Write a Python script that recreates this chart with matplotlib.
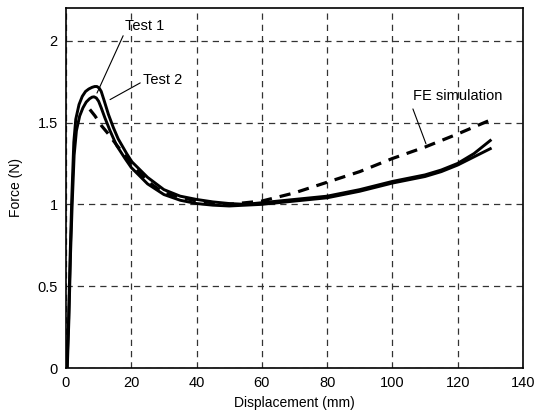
import matplotlib
matplotlib.use("Agg")
import matplotlib.pyplot as plt

plt.rcParams['font.family'] = ['Liberation Sans', 'DejaVu Sans']

# Test 1 (higher peak)
test1_x = [0.3, 0.8, 1.3, 1.8, 2.4, 3.0, 4.0, 5.0, 6.0, 7.0, 8.0, 8.8, 9.5, 10.2, 10.8, 11.6, 13.0, 14.5,
           16.0, 18.6, 20.2, 25.0, 30.0, 35.0, 40.0, 45.0, 50.0, 55.0, 60.0, 70.0, 80.0,
           90.0, 100.0, 110.0, 115.0, 120.0, 125.0, 130.0]
test1_y = [0.0, 0.3, 0.7, 1.05, 1.38, 1.52, 1.61, 1.66, 1.69, 1.705, 1.715, 1.72, 1.72, 1.71, 1.69, 1.64, 1.55, 1.47,
           1.40, 1.31, 1.26, 1.165, 1.09, 1.05, 1.03, 1.015, 1.005, 1.0, 1.01, 1.03, 1.05,
           1.09, 1.14, 1.18, 1.21, 1.25, 1.31, 1.39]

# Test 2
test2_x = [0.4, 0.9, 1.4, 1.9, 2.5, 3.2, 4.2, 5.2, 6.2, 7.2, 8.0, 8.6, 9.3, 10.0, 10.8, 11.9, 13.5, 15.5,
           18.1, 20.0, 25.0, 30.0, 35.0, 40.0, 45.0, 50.0, 55.0, 60.0, 70.0, 80.0,
           90.0, 100.0, 110.0, 115.0, 120.0, 125.0, 130.0]
test2_y = [0.0, 0.3, 0.7, 1.0, 1.3, 1.45, 1.54, 1.59, 1.625, 1.645, 1.655, 1.657, 1.65, 1.63, 1.59, 1.53, 1.45, 1.36,
           1.28, 1.225, 1.125, 1.06, 1.025, 1.005, 0.995, 0.99, 0.995, 1.0, 1.02, 1.04,
           1.08, 1.13, 1.17, 1.20, 1.24, 1.29, 1.34]

# FE simulation
fe_x = [7.3, 8.9, 10.9, 13.0, 16.0, 20.0, 25.0, 30.0, 40.0, 50.0, 60.0, 70.0, 80.0, 90.0, 100.0, 110.0, 120.0, 130.0]
fe_y = [1.58, 1.54, 1.48, 1.43, 1.35, 1.25, 1.14, 1.07, 1.02, 1.0, 1.02, 1.07, 1.135, 1.20, 1.28, 1.35, 1.43, 1.515]

fig = plt.figure(figsize=(5.43, 4.19), dpi=100)
ax = fig.add_axes([0.1215, 0.1217, 0.963 - 0.1215, 0.981 - 0.1217])

ax.plot(test1_x, test1_y, color="black", lw=2.1, solid_joinstyle="round")
ax.plot(test2_x, test2_y, color="black", lw=2.1, solid_joinstyle="round")
ax.plot(fe_x, fe_y, color="black", lw=2.3, dashes=(3.5, 2.5))

ax.set_xlim(0, 140)
ax.set_ylim(0, 2.2)
ax.set_xticks([0, 20, 40, 60, 80, 100, 120, 140])
ax.set_yticks([0, 0.5, 1, 1.5, 2])
ax.set_yticklabels(["0", "0.5", "1", "1.5", "2"])
ax.tick_params(length=0, labelsize=10.5, pad=6)
ax.grid(True, color="#333333", lw=0.9, dashes=(5, 4))
for s in ax.spines.values():
    s.set_linewidth(1.2)

ax.set_xlabel("Displacement (mm)", fontsize=10, labelpad=4)
ax.set_ylabel("Force (N)", fontsize=10, labelpad=10)

ax.annotate("Test 1", xy=(9.5, 1.68), xytext=(18.1, 2.09), fontsize=10.5,
            va="center", ha="left",
            arrowprops=dict(arrowstyle="-", color="black", lw=0.8, shrinkA=0, shrinkB=0,
                            relpos=(0, 0.1)))
ax.annotate("Test 2", xy=(13.5, 1.64), xytext=(23.6, 1.76), fontsize=10.5,
            va="center", ha="left",
            arrowprops=dict(arrowstyle="-", color="black", lw=0.8, shrinkA=0, shrinkB=0,
                            relpos=(0, 0.4)))
ax.annotate("FE simulation", xy=(110.3, 1.37), xytext=(106.3, 1.66), fontsize=10.5,
            va="center", ha="left",
            arrowprops=dict(arrowstyle="-", color="black", lw=0.8, shrinkA=0, shrinkB=0,
                            relpos=(0, -0.4)))

fig.savefig("out.png", dpi=100)
